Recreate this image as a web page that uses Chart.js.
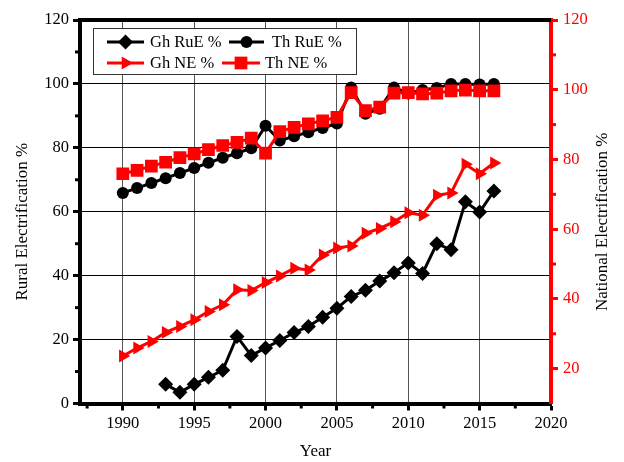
<!DOCTYPE html>
<html><head><meta charset="utf-8">
<script src="https://cdn.jsdelivr.net/npm/chart.js@4.4.1/dist/chart.umd.min.js"></script>
<style>html,body{margin:0;padding:0;background:#fff}#wrap{width:624px;height:462px}</style>
</head><body><div id="wrap"><canvas id="c" width="624" height="462"></canvas></div>
<script>
const years = [1990,1991,1992,1993,1994,1995,1996,1997,1998,1999,2000,2001,2002,2003,2004,2005,2006,2007,2008,2009,2010,2011,2012,2013,2014,2015,2016];
const ghRuE = [null,null,null,6,3.5,6,8.2,10.4,21,15,17.4,19.7,22.2,24.1,27,29.8,33.5,35.4,38.3,40.9,44,40.7,50,48.1,63.1,59.9,66.5];
const thRuE = [65.9,67.4,69,70.5,72.1,73.7,75.3,76.9,78.3,79.9,86.9,82.3,83.6,84.9,86.2,87.6,98.9,90.7,92.2,98.9,97,98.1,98.7,100,100,99.8,100];
const ghNE = [23.6,25.9,27.8,30.4,32.1,34,36.4,38.3,42.6,42.4,44.7,46.6,48.8,48.3,52.6,54.6,55.2,58.8,60.2,62.1,64.7,64,69.7,70.4,78.6,75.9,79];
const thNE = [75.9,76.9,78.1,79.2,80.5,81.6,82.8,84,84.9,86.1,81.8,88,89.2,90.2,91.1,92.1,99.2,94,95,99,99.2,98.8,99,99.7,99.9,99.7,99.7];
const seriesLabels = ['Gh RuE %','Th RuE %','Gh NE %','Th NE %'];
const xTicks = [1990,1995,2000,2005,2010,2015,2020];
const yTicks = [0,20,40,60,80,100,120];
const y2Ticks = [20,40,60,80,100,120];
const xTitle = 'Year';
const yTitle = 'Rural Electrification %';
const y2Title = 'National Electrification %';

const FONT = "'Liberation Serif', 'Times New Roman', serif";
function mk(label, data, color, style, radius, rotation, axis, order) {
  return {
    label, data: years.map((x, i) => ({x, y: data[i]})),
    borderColor: color, backgroundColor: color,
    pointBackgroundColor: color, pointBorderColor: color, pointBorderWidth: 0,
    pointStyle: style, pointRadius: radius, pointHoverRadius: radius, pointRotation: rotation,
    borderWidth: 3, yAxisID: axis, order, tension: 0
  };
}
const datasets = [
  mk(seriesLabels[0], ghRuE, '#000', 'rectRot', 7.5, 0, 'y', 3),
  mk(seriesLabels[1], thRuE, '#000', 'circle', 6, 0, 'y', 2),
  mk(seriesLabels[2], ghNE, '#ff0000', 'triangle', 7.5, 90, 'y2', 1),
  mk(seriesLabels[3], thNE, '#ff0000', 'rect', 9, 0, 'y2', 0)
];

const extras = {
  id: 'extras',
  beforeDatasetsDraw(chart) {
    const ctx = chart.ctx, a = chart.chartArea, sx = chart.scales.x, sy = chart.scales.y, s2 = chart.scales.y2;
    ctx.save();
    ctx.strokeStyle = '#000'; ctx.lineWidth = 4;
    ctx.beginPath(); ctx.moveTo(a.left - 2, a.top); ctx.lineTo(a.right, a.top); ctx.stroke();
    ctx.lineWidth = 3;
    for (let v = 1987.5; v < 2020; v += 5) {
      const px = sx.getPixelForValue(v);
      ctx.beginPath(); ctx.moveTo(px, a.bottom); ctx.lineTo(px, a.bottom + 5); ctx.stroke();
    }
    for (let v = 10; v < 120; v += 20) {
      const py = sy.getPixelForValue(v);
      ctx.beginPath(); ctx.moveTo(a.left, py); ctx.lineTo(a.left - 5, py); ctx.stroke();
    }
    ctx.strokeStyle = '#ff0000';
    for (let v = 30; v < 120; v += 20) {
      const py = s2.getPixelForValue(v);
      ctx.beginPath(); ctx.moveTo(a.right, py); ctx.lineTo(a.right + 5, py); ctx.stroke();
    }
    ctx.fillStyle = '#000'; ctx.font = "17px " + FONT; ctx.textAlign = 'center'; ctx.textBaseline = 'middle';
    const cy = (a.top + a.bottom) / 2 + 10;
    ctx.save(); ctx.translate(23, cy); ctx.rotate(-Math.PI / 2); ctx.fillText(yTitle, 0, 0); ctx.restore();
    ctx.save(); ctx.translate(603, cy); ctx.rotate(-Math.PI / 2); ctx.fillText(y2Title, 0, 0); ctx.restore();
    ctx.restore();
  },
  afterDatasetsDraw(chart) {
    const ctx = chart.ctx;
    ctx.save();
    ctx.fillStyle = '#fff'; ctx.strokeStyle = '#333'; ctx.lineWidth = 1;
    ctx.fillRect(93, 28, 264, 47); ctx.strokeRect(93.5, 28.5, 263, 46);
    const ent = [
      {i: 0, x1: 107, x2: 144, tx: 150, y: 42},
      {i: 1, x1: 229, x2: 264, tx: 272, y: 42},
      {i: 2, x1: 107, x2: 144, tx: 150, y: 63},
      {i: 3, x1: 222, x2: 260, tx: 265, y: 63}
    ];
    ctx.font = "16.5px " + FONT; ctx.textBaseline = 'middle'; ctx.textAlign = 'left';
    for (const e of ent) {
      const d = chart.data.datasets[e.i];
      ctx.strokeStyle = d.borderColor; ctx.fillStyle = d.borderColor; ctx.lineWidth = 3;
      ctx.beginPath(); ctx.moveTo(e.x1, e.y); ctx.lineTo(e.x2, e.y); ctx.stroke();
      Chart.helpers.drawPoint(ctx, {pointStyle: d.pointStyle, rotation: d.pointRotation, radius: d.pointRadius, borderWidth: 0}, (e.x1 + e.x2) / 2, e.y);
      ctx.fillStyle = '#000';
      ctx.fillText(d.label, e.tx, e.y + 1);
    }
    ctx.restore();
  }
};

const tickFont = {family: FONT, size: 16.5};
const setTicks = vals => s => { s.ticks = vals.map(v => ({value: v})); };
new Chart(document.getElementById('c'), {
  type: 'line',
  data: {datasets},
  plugins: [extras],
  options: {
    responsive: false, animation: false, devicePixelRatio: 1, events: [],
    layout: {padding: {top: 20, left: 0, right: 0, bottom: 0}},
    plugins: {legend: {display: false}, tooltip: {enabled: false}},
    scales: {
      x: {
        type: 'linear', position: 'bottom', min: 1987, max: 2020,
        afterBuildTicks: setTicks(xTicks),
        afterFit: s => { s.height = 58.5; },
        ticks: {color: '#000', font: tickFont, padding: 3, maxRotation: 0, autoSkip: false, callback: v => String(v)},
        grid: {color: '#555', lineWidth: 1, tickColor: '#000', tickWidth: 3, tickLength: 7},
        border: {color: '#000', width: 4},
        title: {display: true, text: xTitle, color: '#000', font: {family: FONT, size: 17}, padding: {top: 0, bottom: 0}}
      },
      y: {
        type: 'linear', position: 'left', min: 0, max: 120,
        afterBuildTicks: setTicks(yTicks),
        afterFit: s => { s.width = 80; },
        ticks: {color: '#000', font: tickFont, padding: 4, autoSkip: false},
        grid: {color: '#000', lineWidth: 1, tickColor: '#000', tickWidth: 3, tickLength: 7},
        border: {color: '#000', width: 4}
      },
      y2: {
        type: 'linear', position: 'right', min: 10, max: 120,
        afterBuildTicks: setTicks(y2Ticks),
        afterFit: s => { s.width = 73; },
        ticks: {color: '#ff0000', font: tickFont, padding: 5, autoSkip: false},
        grid: {drawOnChartArea: false, tickColor: '#ff0000', tickWidth: 3, tickLength: 7},
        border: {color: '#ff0000', width: 4}
      }
    }
  }
});
</script></body></html>
